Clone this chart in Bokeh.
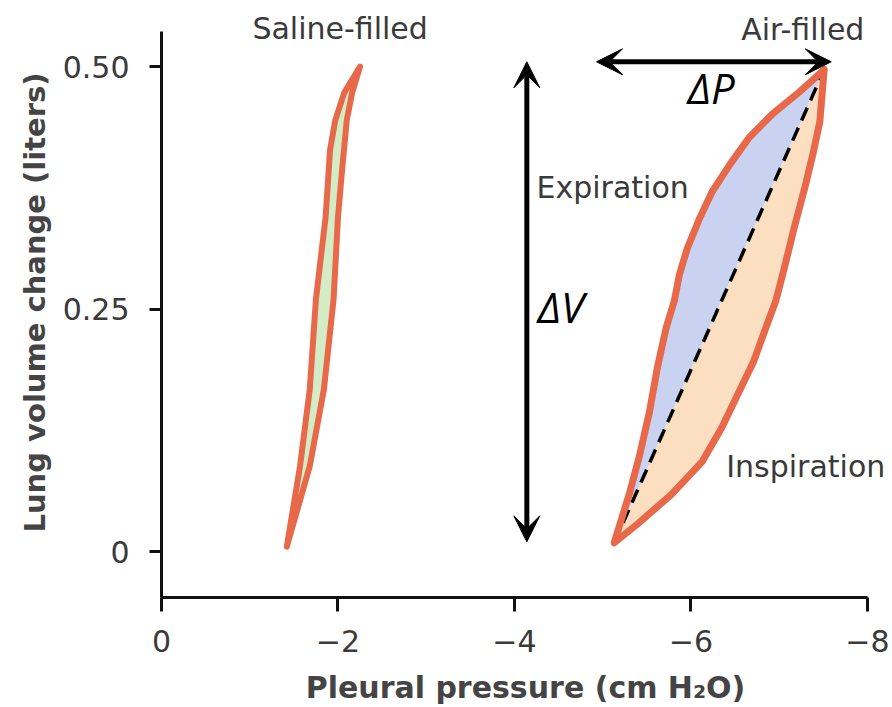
from bokeh.plotting import figure
from bokeh.models import Range1d, FixedTicker, Arrow, VeeHead
from bokeh.core.properties import value
from bokeh.embed import file_html
from bokeh.resources import INLINE

# ---- data (pleural pressure in cm H2O, volume change in liters) ----
saline_exp_x = [-1.42, -1.57, -1.68, -1.75, -1.86, -1.91, -1.97, -2.07, -2.25]
saline_exp_y = [0.005, 0.088, 0.167, 0.26, 0.345, 0.414, 0.445, 0.473, 0.50]
saline_insp_x = [-1.42, -1.68, -1.84, -1.95, -2.00, -2.05, -2.10, -2.16, -2.25]
saline_insp_y = [0.005, 0.088, 0.167, 0.26, 0.345, 0.397, 0.445, 0.473, 0.50]

air_exp_x = [-5.13, -5.30, -5.42, -5.53, -5.62, -5.72, -5.81, -5.87, -5.96,
             -6.10, -6.24, -6.44, -6.66, -6.92, -7.23, -7.51]
air_exp_y = [0.009, 0.059, 0.100, 0.144, 0.190, 0.231, 0.258, 0.286, 0.313,
             0.344, 0.371, 0.399, 0.427, 0.451, 0.474, 0.497]
air_insp_x = [-5.13, -5.39, -5.78, -6.13, -6.35, -6.53, -6.71, -6.85, -6.96,
              -7.06, -7.17, -7.29, -7.38, -7.46, -7.51]
air_insp_y = [0.009, 0.028, 0.059, 0.093, 0.128, 0.162, 0.196, 0.231, 0.258,
              0.293, 0.334, 0.375, 0.409, 0.443, 0.497]

x_ticks = [0, -2, -4, -6, -8]
x_tick_labels = ["0", "\u22122", "\u22124", "\u22126", "\u22128"]
y_ticks = [0, 0.25, 0.5]
y_tick_labels = ["0", "0.25", "0.50"]

label_texts = ["Saline-filled", "Air-filled", "Expiration", "Inspiration"]
label_x = [-1.03, -6.57, -4.25, -6.40]
label_y = [0.539, 0.538, 0.375, 0.088]

delta_texts = ["\u0394P", "\u0394V"]
delta_x = [-5.96, -4.26]
delta_y = [0.478, 0.253]

# ---- figure ----
OUTLINE = "#E8684A"
TXT = "#3a3a3a"

p = figure(frame_width=728, frame_height=590, output_backend="svg",
           toolbar_location=None, x_range=Range1d(0, -8.25),
           y_range=Range1d(-0.0474, 0.561),
           min_border_left=161, min_border_right=0, min_border_top=7,
           min_border_bottom=108)
p.outline_line_color = None
p.grid.visible = False
p.background_fill_color = "white"

# saline loop
sal_x = saline_exp_x + saline_insp_x[::-1]
sal_y = saline_exp_y + saline_insp_y[::-1]
p.patch(sal_x, sal_y, fill_color="#D3ECC6", line_color=OUTLINE, line_width=6,
        line_join="round")

# air loop: expiration side (blue) and inspiration side (peach)
blue_x = air_exp_x + [air_insp_x[-1], air_insp_x[0]]
blue_y = air_exp_y + [air_insp_y[-1], air_insp_y[0]]
p.patch(blue_x, blue_y, fill_color="#C9D3F1", line_color=None)
peach_x = [air_exp_x[0], air_exp_x[-1]] + air_insp_x[::-1]
peach_y = [air_exp_y[0], air_exp_y[-1]] + air_insp_y[::-1]
p.patch(peach_x, peach_y, fill_color="#FCDFC0", line_color=None)
p.line([air_exp_x[0], air_exp_x[-1]], [air_exp_y[0], air_exp_y[-1]],
       line_color="black", line_width=3.5, line_dash="14 8")
loop_x = air_exp_x + air_insp_x[::-1]
loop_y = air_exp_y + air_insp_y[::-1]
p.patch(loop_x, loop_y, fill_color=None, line_color=OUTLINE, line_width=7,
        line_join="round")

# arrows
def head():
    return VeeHead(size=26, fill_color="black", line_color="black")

p.add_layout(Arrow(x_start=-4.14, y_start=0.01, x_end=-4.14, y_end=0.505,
                   line_width=5, line_color="black", start=head(), end=head()))
p.add_layout(Arrow(x_start=-4.93, y_start=0.505, x_end=-7.59, y_end=0.505,
                   line_width=5, line_color="black", start=head(), end=head()))

# labels
p.text(label_x, label_y, text=label_texts, text_font=value("DejaVu Sans"),
       text_font_size="30px", text_color=TXT, text_align="left",
       text_baseline="middle")
p.text(delta_x, delta_y, text=delta_texts, text_font=value("Open Sans"),
       text_font_style="italic", text_font_size="42px", text_color="black",
       text_align="left", text_baseline="middle")

# axes
for ax in (p.xaxis[0], p.yaxis[0]):
    ax.axis_line_width = 3
    ax.axis_line_color = "#111111"
    ax.major_tick_line_width = 3
    ax.major_tick_line_color = "#111111"
    ax.minor_tick_line_color = None
    ax.major_tick_in = 0
    ax.major_label_text_font = "DejaVu Sans"
    ax.major_label_text_font_size = "30px"
    ax.major_label_text_color = TXT
    ax.axis_label_text_font = "DejaVu Sans"
    ax.axis_label_text_font_style = "bold"
    ax.axis_label_text_font_size = "29px"
    ax.axis_label_text_color = "#444444"

p.xaxis.ticker = FixedTicker(ticks=x_ticks)
p.xaxis.major_label_overrides = dict(zip(x_ticks, x_tick_labels))
p.xaxis.bounds = (-8, 0)
p.xaxis.major_tick_out = 14
p.xaxis.major_label_standoff = 18
p.xaxis.axis_label = "Pleural pressure (cm H\u2082O)"
p.xaxis.axis_label_text_font_size = "30px"
p.xaxis.axis_label_standoff = 15

p.yaxis.ticker = FixedTicker(ticks=y_ticks)
p.yaxis.major_label_overrides = dict(zip(y_ticks, y_tick_labels))
p.yaxis.bounds = (-0.0474, 0.536)
p.yaxis.major_tick_out = 12
p.yaxis.major_label_standoff = 20
p.yaxis.axis_label = "Lung volume change (liters)"
p.yaxis.axis_label_standoff = 8

open("out.html", "w").write(file_html(p, INLINE))
